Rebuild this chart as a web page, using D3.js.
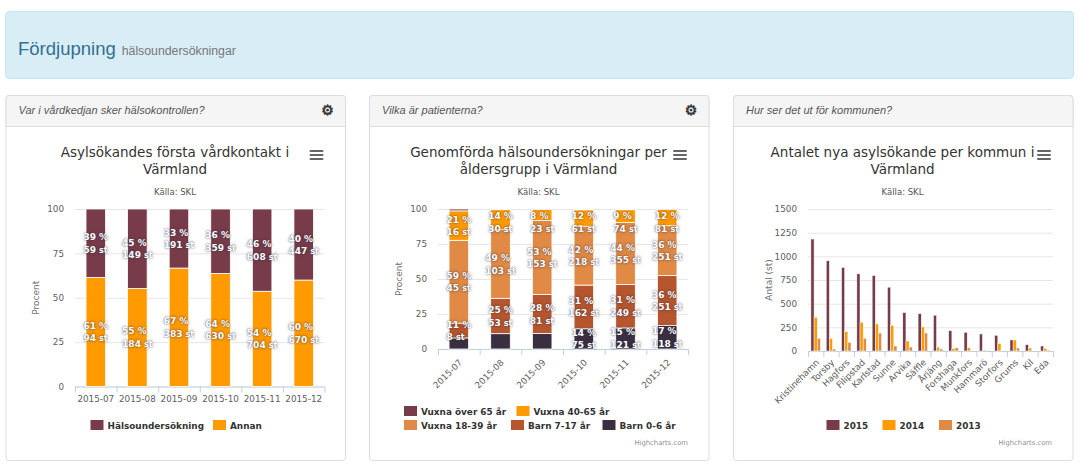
<!DOCTYPE html>
<html>
<head>
<meta charset="utf-8">
<script src="https://cdn.jsdelivr.net/npm/d3@7"></script>
<style>
  body { margin: 0; background: #fff; }
  svg { display: block; }
  text { font-family: "DejaVu Sans", sans-serif; }
  .html-font { font-family: "Liberation Sans", sans-serif; }
  .bar-label { font-weight: bold; fill: #fff; font-size: 9px; text-shadow: 0 0 3px rgba(50,50,70,.75), 0 0 1px rgba(50,50,70,.5); }
</style>
</head>
<body>
<svg id="page" width="1081" height="472"></svg>
<script>
// data
const months = ["2015-07", "2015-08", "2015-09", "2015-10", "2015-11", "2015-12"];

const contactSeries = ["Hälsoundersökning", "Annan"];
const contactCheckup = [59, 149, 191, 359, 608, 447];
const contactOther = [94, 184, 383, 630, 704, 670];

const ageSeries = ["Vuxna över 65 år", "Vuxna 40-65 år", "Vuxna 18-39 år", "Barn 7-17 år", "Barn 0-6 år"];
const ageOver65 = [1, 1, 1, 3, 4, 3];
const age40to65 = [16, 30, 23, 61, 74, 81];
const age18to39 = [45, 103, 153, 218, 355, 251];
const age7to17 = [8, 53, 81, 162, 249, 251];
const age0to6 = [6, 23, 32, 75, 121, 118];

const towns = ["Kristinehamn", "Torsby", "Hagfors", "Filipstad", "Karlstad", "Sunne", "Arvika", "Säffle",
  "Årjäng", "Forshaga", "Munkfors", "Hammarö", "Storfors", "Grums", "Kil", "Eda"];
const townYears = ["2015", "2014", "2013"];
const towns2015 = [1183, 953, 883, 815, 798, 674, 406, 395, 378, 215, 198, 180, 166, 117, 67, 53];
const towns2014 = [357, 134, 205, 304, 286, 272, 106, 254, 42, 25, 35, 10, 81, 117, 32, 28];
const towns2013 = [134, 21, 92, 134, 190, 53, 42, 190, 21, 35, 0, 0, 0, 32, 0, 10];

const colors = ["#773b49", "#ff9a00", "#e08a45", "#b5562f", "#3a2f41"];

const svg = d3.select("#page");

// banner
svg.append("rect").attr("x", 5.5).attr("y", 11.5).attr("width", 1068).attr("height", 67).attr("rx", 4)
  .attr("fill", "#d9edf7").attr("stroke", "#bce8f1");
const banner = svg.append("text").attr("class", "html-font").attr("x", 18).attr("y", 55);
banner.append("tspan").attr("font-size", 18.5).attr("fill", "#31708f").text("Fördjupning");
banner.append("tspan").attr("dx", 6).attr("font-size", 12.3).attr("fill", "#777").text("hälsoundersökningar");

function panel(x, question, hasGear, titleLines) {
  const g = svg.append("g").attr("transform", `translate(${x},0)`);
  const w = 339.5;
  g.append("rect").attr("x", .5).attr("y", 95.5).attr("width", w).attr("height", 365).attr("rx", 3)
    .attr("fill", "#fff").attr("stroke", "#ddd");
  g.append("path").attr("d", `M.5 126.5V98.5a3 3 0 0 1 3-3H${w - 2.5}a3 3 0 0 1 3 3V126.5Z`)
    .attr("fill", "#f5f5f5").attr("stroke", "#ddd");
  g.append("text").attr("class", "html-font").attr("x", 13).attr("y", 114)
    .attr("font-size", 11).attr("font-style", "italic").attr("fill", "#555").text(question);
  if (hasGear) {
    g.append("text").attr("x", 322).attr("y", 115).attr("text-anchor", "middle")
      .attr("font-size", 14).attr("font-weight", "bold").attr("fill", "#333")
      .attr("stroke", "#333").attr("stroke-width", .6).text("\u2699");
  }
  const cx = 169.5;
  g.selectAll(".title").data(titleLines).join("text").attr("class", "title")
    .attr("x", cx).attr("y", (d, i) => 157 + i * 17).attr("text-anchor", "middle")
    .attr("font-size", 13.5).attr("fill", "#333").text(d => d);
  g.append("text").attr("x", cx).attr("y", 195).attr("text-anchor", "middle")
    .attr("font-size", 8.5).attr("fill", "#555").text("Källa: SKL");
  // export menu icon
  g.selectAll(".menu").data([0, 1, 2]).join("line").attr("class", "menu")
    .attr("x1", 305).attr("x2", 317).attr("y1", d => 151 + d * 4).attr("y2", d => 151 + d * 4)
    .attr("stroke", "#666").attr("stroke-width", 2).attr("stroke-linecap", "round");
  return g;
}

// y axis, grid, x axis ticks and y title shared by the three charts
function frame(g, x0, x1, y0, y1, y, n, yTitle, yTicks) {
  const yAxis = g.append("g").attr("transform", `translate(${x0},0)`)
    .call(d3.axisLeft(y).tickValues(yTicks).tickFormat(d3.format("d")).tickSize(-(x1 - x0)).tickPadding(11));
  yAxis.select(".domain").remove();
  yAxis.selectAll("line").attr("stroke", "#e6e6e6");
  yAxis.selectAll("text").attr("font-size", 8.8).attr("font-family", "DejaVu Sans").attr("fill", "#606060");

  const edges = d3.scaleLinear().domain([0, n]).range([x0, x1]);
  const xEdges = g.append("g").attr("transform", `translate(0,${y0})`)
    .call(d3.axisBottom(edges).tickValues(d3.range(n + 1)).tickSize(6).tickFormat(""));
  xEdges.select(".domain").attr("stroke", "#c0d0e0").attr("d", `M${x0},0.5H${x1}`);
  xEdges.selectAll("line").attr("stroke", "#c0d0e0");

  g.append("text").attr("transform", `translate(${x0 - 36},${(y0 + y1) / 2}) rotate(-90)`)
    .attr("text-anchor", "middle").attr("font-size", 9).attr("fill", "#707070").text(yTitle);
}

function legendRow(g, items, rowY) {
  items.forEach(it => {
    g.append("rect").attr("x", it.x).attr("y", rowY).attr("width", 13).attr("height", 10).attr("fill", it.color);
    g.append("text").attr("x", it.x + 17).attr("y", rowY + 8.5).attr("font-size", 8.9)
      .attr("font-weight", "bold").attr("fill", "#333").text(it.name);
  });
}

function credits(g, x) {
  g.append("text").attr("x", x).attr("y", 445).attr("text-anchor", "end")
    .attr("font-size", 6.8).attr("fill", "#909090").text("Highcharts.com");
}

// stacked percent columns, drawn from the raw counts
function stackedPercent(g, cfg) {
  const { x0, x1, y0, y1, names, rows, hidden } = cfg;
  const y = d3.scaleLinear().domain([0, 100]).range([y0, y1]);
  frame(g, x0, x1, y0, y1, y, months.length, "Procent", [0, 25, 50, 75, 100]);
  const x = d3.scaleBand().domain(months).range([x0, x1]).paddingInner(cfg.pad).paddingOuter(cfg.pad / 2);

  const table = months.map((m, i) => {
    const row = { month: m };
    names.forEach((name, s) => { row[name] = rows[s][i]; });
    return row;
  });
  // first series ends up on top of the stack
  const stacked = d3.stack().keys(names.slice().reverse()).offset(d3.stackOffsetExpand)(table);

  stacked.forEach(layer => {
    const color = colors[names.indexOf(layer.key)];
    g.append("g").selectAll("rect").data(layer).join("rect")
      .attr("x", d => x(d.data.month)).attr("width", x.bandwidth())
      .attr("y", d => y(d[1] * 100)).attr("height", d => y(d[0] * 100) - y(d[1] * 100))
      .attr("fill", color).attr("stroke", "#fff").attr("stroke-width", .8);
  });

  stacked.forEach(layer => {
    const s = names.indexOf(layer.key);
    layer.forEach((d, i) => {
      if (hidden(s, i)) return;
      const pct = Math.round((d[1] - d[0]) * 100);
      // labels near the top get pushed back inside the plot
      const mid = Math.max(y((d[0] + d[1]) * 50), y1 + 13);
      const cx = x(d.data.month) + x.bandwidth() / 2;
      const label = g.append("text").attr("class", "bar-label");
      const first = label.append("tspan").attr("y", mid - 3).text(pct + " %");
      const second = label.append("tspan").attr("y", mid + 9.5).text(d.data[layer.key] + " ");
      second.append("tspan").attr("font-size", 8).text("st");
      const wide = Math.max(first.node().getComputedTextLength(), second.node().getComputedTextLength());
      first.attr("x", cx - wide / 2);
      second.attr("x", cx - wide / 2);
    });
  });
  return x;
}

// chart 1
const g1 = panel(5.5, "Var i vårdkedjan sker hälsokontrollen?", true, ["Asylsökandes första vårdkontakt i", "Värmland"]);
const x1Scale = stackedPercent(g1, {
  x0: 69.5, x1: 319, y0: 386.5, y1: 209, names: contactSeries, rows: [contactCheckup, contactOther],
  pad: .53, hidden: () => false
});
const x1Axis = g1.append("g").attr("transform", "translate(0,386.5)")
  .call(d3.axisBottom(x1Scale).tickSize(0).tickPadding(9));
x1Axis.select(".domain").remove();
x1Axis.selectAll("text").attr("font-size", 8.8).attr("font-family", "DejaVu Sans").attr("fill", "#606060");
legendRow(g1, [{ x: 85, name: contactSeries[0], color: colors[0] }, { x: 207.5, name: contactSeries[1], color: colors[1] }], 420);

// chart 2
const g2 = panel(369, "Vilka är patienterna?", true, ["Genomförda hälsoundersökningar per", "åldersgrupp i Värmland"]);
const x2Scale = stackedPercent(g2, {
  x0: 69, x1: 319, y0: 349, y1: 209, names: ageSeries, rows: [ageOver65, age40to65, age18to39, age7to17, age0to6],
  pad: .53,
  // labels the chart leaves out: the sliver on top and the youngest group in the first months
  hidden: (s, i) => s === 0 || (s === 4 && i < 3)
});
const x2Axis = g2.append("g").attr("transform", "translate(0,349)").call(d3.axisBottom(x2Scale).tickSize(0));
x2Axis.select(".domain").remove();
x2Axis.selectAll("text").attr("font-size", 8.8).attr("font-family", "DejaVu Sans").attr("fill", "#606060")
  .attr("text-anchor", "end").attr("dy", 0).attr("y", 0)
  .attr("transform", "translate(4,14) rotate(-45)");
legendRow(g2, [{ x: 35, name: ageSeries[0], color: colors[0] }, { x: 147.5, name: ageSeries[1], color: colors[1] }], 406);
legendRow(g2, [{ x: 35, name: ageSeries[2], color: colors[2] }, { x: 142, name: ageSeries[3], color: colors[3] }, { x: 233.5, name: ageSeries[4], color: colors[4] }], 420);
credits(g2, 319);

// chart 3
const g3 = panel(733, "Hur ser det ut för kommunen?", false, ["Antalet nya asylsökande per kommun i", "Värmland"]);
const y3 = d3.scaleLinear().domain([0, 1500]).range([351, 209]);
frame(g3, 75, 320, 351, 209, y3, towns.length, "Antal (st)", [0, 250, 500, 750, 1000, 1250, 1500]);
const x3 = d3.scaleBand().domain(towns).range([75, 320]);
const x3Inner = d3.scaleBand().domain(townYears).range([x3.bandwidth() * .19, x3.bandwidth() * .81]);
[towns2015, towns2014, towns2013].forEach((vals, s) => {
  g3.append("g").selectAll("rect").data(vals).join("rect")
    .attr("x", (d, i) => x3(towns[i]) + x3Inner(townYears[s]))
    .attr("width", x3Inner.bandwidth())
    .attr("y", d => y3(d)).attr("height", d => y3(0) - y3(d))
    .attr("fill", colors[s]).attr("stroke", "#fff").attr("stroke-width", .5);
});
const x3Axis = g3.append("g").attr("transform", "translate(0,351)").call(d3.axisBottom(x3).tickSize(0));
x3Axis.select(".domain").remove();
x3Axis.selectAll("text").attr("font-size", 8.8).attr("font-family", "DejaVu Sans").attr("fill", "#606060")
  .attr("text-anchor", "end").attr("dy", 0).attr("y", 0)
  .attr("transform", "translate(4,12) rotate(-45)");
legendRow(g3, [0, 1, 2].map(i => ({ x: [93.5, 149.5, 206][i], name: townYears[i], color: colors[i] })), 420);
credits(g3, 319);
</script>
</body>
</html>
